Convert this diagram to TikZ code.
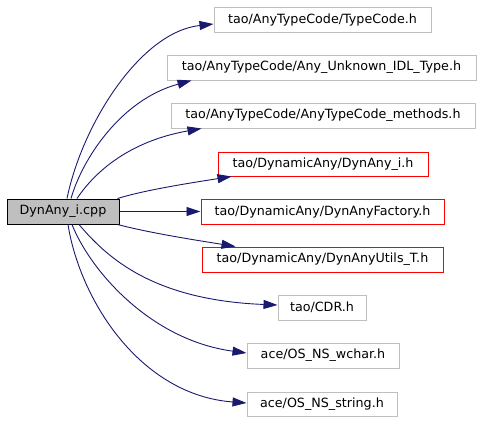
\documentclass[tikz,border=0pt]{standalone}
\usepackage{fontspec}
\setmainfont{DejaVu Sans}
\usetikzlibrary{arrows.meta}
\definecolor{edgecol}{RGB}{25,25,112}
\definecolor{boxgray}{RGB}{191,191,191}
\definecolor{boxred}{RGB}{255,0,0}
\tikzset{
  filebox/.style={draw=boxgray, line width=1pt, minimum height=25pt, inner sep=0pt, anchor=center, font=\fontsize{12.7}{15}\selectfont},
  redbox/.style={filebox, draw=boxred},
  srcbox/.style={filebox, draw=black, fill=boxgray},
  dep/.style={draw=edgecol, line width=0.9pt, -{Triangle[length=14pt,width=9pt]}, color=edgecol},
}
\begin{document}
\begin{tikzpicture}[x=1pt,y=-1pt]
\useasboundingbox (0,0) rectangle (483,421);
\node[srcbox, minimum width=112pt] (src) at (63,211.5) {DynAny\_i.cpp};
\node[filebox, minimum width=217pt] (n1) at (322.5,19.5) {tao/AnyTypeCode/TypeCode.h};
\node[filebox, minimum width=309pt] (n2) at (321.5,67.5) {tao/AnyTypeCode/Any\_Unknown\_IDL\_Type.h};
\node[filebox, minimum width=304pt] (n3) at (323,115.5) {tao/AnyTypeCode/AnyTypeCode\_methods.h};
\node[redbox, minimum width=210pt, minimum height=24pt] (n4) at (323,164) {tao/DynamicAny/DynAny\_i.h};
\node[redbox, minimum width=243pt] (n5) at (322.5,211.5) {tao/DynamicAny/DynAnyFactory.h};
\node[redbox, minimum width=241pt] (n6) at (322.5,259.5) {tao/DynamicAny/DynAnyUtils\_T.h};
\node[filebox, minimum width=88pt] (n7) at (322,307.5) {tao/CDR.h};
\node[filebox, minimum width=152pt] (n8) at (323,355.5) {ace/OS\_NS\_wchar.h};
\node[filebox, minimum width=150pt, minimum height=24pt] (n9) at (322,404) {ace/OS\_NS\_string.h};

\draw[dep] ([xshift=4pt]src.north) .. controls (82,125) and (140,32) .. ([yshift=-4.5pt]n1.west);
\draw[dep] ([xshift=8pt]src.north) .. controls (82,160) and (120,100) .. ([xshift=25pt]n2.south west);
\draw[dep] ([xshift=14pt]src.north) .. controls (92,176) and (125,142) .. ([xshift=31pt]n3.south west);
\draw[dep] ([xshift=-2pt]src.north east) .. controls (145,190) and (190,183) .. ([xshift=14pt]n4.south west);
\draw[dep] (src.east) -- (n5.west);
\draw[dep] ([xshift=-2pt]src.south east) .. controls (150,233) and (195,240) .. ([xshift=34pt]n6.north west);
\draw[dep] ([xshift=16pt]src.south) .. controls (105,255) and (150,300) .. ([yshift=2.5pt]n7.west);
\draw[dep] ([xshift=9pt]src.south) .. controls (90,270) and (150,340) .. ([yshift=2.5pt]n8.west);
\draw[dep] ([xshift=5pt]src.south) .. controls (80,300) and (140,395) .. ([yshift=1pt]n9.west);
\end{tikzpicture}
\end{document}
